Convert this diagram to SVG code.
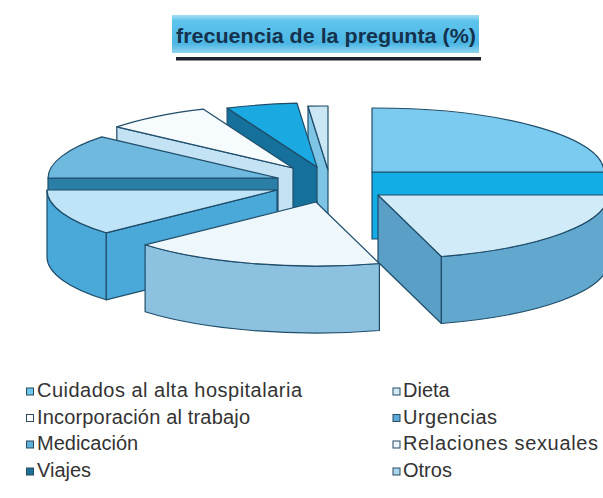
<svg xmlns="http://www.w3.org/2000/svg" width="603" height="498" viewBox="0 0 603 498">
<defs>
<linearGradient id="tg" x1="0" y1="0" x2="0" y2="1">
<stop offset="0" stop-color="#a6e0f5"/>
<stop offset="0.15" stop-color="#5ec4ec"/>
<stop offset="0.75" stop-color="#4bb6e4"/>
<stop offset="1" stop-color="#8ed4ef"/>
</linearGradient>
</defs>
<style>
.s{stroke:#1f4d6a;stroke-width:1.2;stroke-linejoin:round}
.lg{font-family:"Liberation Sans",Arial,sans-serif;font-size:20px;fill:#333333}
.mk{stroke:#2b4a5e;stroke-width:1}
</style>
<rect width="603" height="498" fill="#ffffff"/>
<g id="title">
<rect x="176" y="57" width="305" height="3.5" fill="#1c1f2e"/>
<rect x="172" y="15" width="307" height="38" fill="url(#tg)"/>
<text x="176" y="43" font-family="'Liberation Sans',Arial,sans-serif" font-size="21" font-weight="bold" fill="#15324d" textLength="300" lengthAdjust="spacingAndGlyphs">frecuencia de la pregunta (%)</text>
</g>
<g id="slice-otros">
<path class="s" d="M328,170 L308,106.2 L308,173.2 L328,237 Z" fill="#7ec5e5"/>
<path class="s" d="M328,170 L328,106 A230,64 0 0 0 308,106.2 Z" fill="#cbe7f5"/>
</g>
<g id="slice-viajes">
<path class="s" d="M317,167 L227.1,108.1 L227.1,175.1 L317,234 Z" fill="#15709c"/>
<path class="s" d="M317,167 L297,103.2 A230,64 0 0 0 227.1,108.1 Z" fill="#1ba9e2"/>
</g>
<g id="slice-white">
<path class="s" d="M293,168 L116.8,126.9 L116.8,193.9 L293,235 Z" fill="#c3e3f4"/>
<path class="s" d="M293,168 L203.1,109.1 A230,64 0 0 0 116.8,126.9 Z" fill="#f6fbfe"/>
</g>
<g id="slice-upper-left">
<rect class="s" x="48" y="178" width="230" height="67" fill="#2b7ea6"/>
<path class="s" d="M278,178 L101.8,136.9 A230,64 0 0 0 48,178 Z" fill="#6fb8de"/>
</g>
<g id="slice-lower-left">
<path class="s" d="M277,190 L106.1,232.8 L106.1,299.8 L277,257 Z" fill="#4aa9d8"/>
<path class="s" d="M47,190 A230,64 0 0 0 106.1,232.8 L106.1,299.8 A230,64 0 0 1 47,257 Z" fill="#4aa9d8"/>
<path class="s" d="M277,190 L47,190 A230,64 0 0 0 106.1,232.8 Z" fill="#bfe4f7"/>
</g>
<g id="slice-bottom">
<path class="s" d="M145.1,244.8 A230,64 0 0 0 379.4,263.5 L379.4,330.5 A230,64 0 0 1 145.1,311.8 Z" fill="#8cc2e0"/>
<path class="s" d="M316,202 L379.4,263.5 A230,64 0 0 1 145.1,244.8 Z" fill="#eef7fc"/>
</g>
<g id="slice-top-right">
<rect class="s" x="372" y="172" width="232" height="67" fill="#12ade5"/>
<path class="s" d="M372,172 L604,172 A230,64 0 0 0 372,108 Z" fill="#7acbef"/>
</g>
<g id="slice-right">
<path class="s" d="M378,195 L441.4,256.5 L441.4,323.5 L378,262 Z" fill="#5a9fc6"/>
<path class="s" d="M441.4,256.5 A230,64 0 0 0 608,195 L608,262 A230,64 0 0 1 441.4,323.5 Z" fill="#62a8ce"/>
<path class="s" d="M378,195 L441.4,256.5 A230,64 0 0 0 608,195 Z" fill="#d2ebf8"/>
</g>
<g id="legend">
<rect class="mk" x="26.5" y="388" width="7" height="7" fill="#6cc6ee"/>
<text class="lg" x="37" y="397" textLength="265" lengthAdjust="spacing">Cuidados al alta hospitalaria</text>
<rect class="mk" x="26.5" y="414.5" width="7" height="7" fill="#ffffff"/>
<text class="lg" x="37" y="423.5" textLength="213" lengthAdjust="spacing">Incorporación al trabajo</text>
<rect class="mk" x="26.5" y="441" width="7" height="7" fill="#5fb0da"/>
<text class="lg" x="37" y="450">Medicación</text>
<rect class="mk" x="26.5" y="468" width="7" height="7" fill="#1b6f99"/>
<text class="lg" x="37" y="477">Viajes</text>
<rect class="mk" x="393" y="388" width="7" height="7" fill="#d4eaf6"/>
<text class="lg" x="403" y="397">Dieta</text>
<rect class="mk" x="393" y="414.5" width="7" height="7" fill="#5ca9da"/>
<text class="lg" x="403" y="423.5" textLength="94" lengthAdjust="spacing">Urgencias</text>
<rect class="mk" x="393" y="441" width="7" height="7" fill="#eaf5fb"/>
<text class="lg" x="403" y="450" textLength="195" lengthAdjust="spacing">Relaciones sexuales</text>
<rect class="mk" x="393" y="468" width="7" height="7" fill="#a9d6ec"/>
<text class="lg" x="403" y="477">Otros</text>
</g>
</svg>
